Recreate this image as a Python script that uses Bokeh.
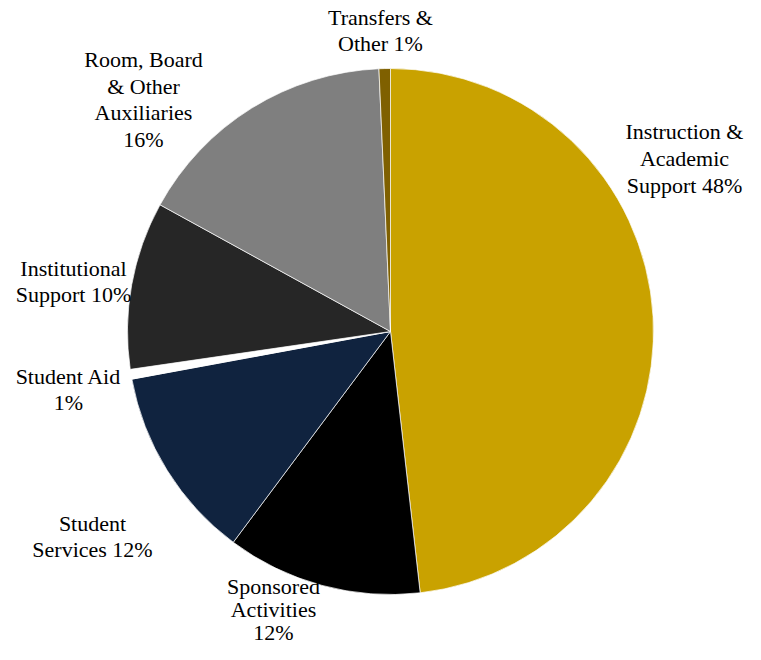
import math
from bokeh.plotting import figure
from bokeh.models import ColumnDataSource, Range1d
from bokeh.core.properties import value
from bokeh.embed import file_html
from bokeh.resources import INLINE

# Data (clockwise from 12 o'clock)
categories = ["Instruction &\nAcademic\nSupport 48%", "Sponsored\nActivities\n12%",
              "Student\nServices 12%", "Student Aid\n1%", "Institutional\nSupport 10%",
              "Room, Board\n& Other\nAuxiliaries\n16%", "Transfers &\nOther 1%"]
shares = [48.2, 12.0, 11.9, 0.6, 10.3, 16.3, 0.7]
colors = ["#C9A200", "#000000", "#10233F", "#FFFFFF", "#262626", "#7F7F7F", "#7F6000"]

# Layout (pixels, measured from top-left of the figure)
W, H = 745, 644
cx, cy, R = 390, 331, 263
label_pos = [(684, 158), (273, 609), (92, 536), (68, 389), (73, 281), (143, 99), (380, 30)]
line_heights = [1.065, 0.93, 1.065, 1.065, 1.065, 1.065, 1.065]

total = sum(shares)
starts, ends = [], []
cum = 0.0
for s in shares:
    starts.append(math.pi / 2 - 2 * math.pi * cum / total)
    cum += s
    ends.append(math.pi / 2 - 2 * math.pi * cum / total)

src = ColumnDataSource(dict(start=starts, end=ends, color=colors))

p = figure(width=W, height=H, x_range=Range1d(0, W), y_range=Range1d(0, H),
           output_backend="svg", toolbar_location=None, min_border=0)
p.axis.visible = False
p.grid.visible = False
p.outline_line_color = None
p.background_fill_color = "white"

p.wedge(x=cx, y=H - cy, radius=R, start_angle="start", end_angle="end", direction="clock",
        fill_color="color", line_color="white", line_width=0.7, source=src)

for lh in sorted(set(line_heights)):
    idx = [i for i, v in enumerate(line_heights) if v == lh]
    lsrc = ColumnDataSource(dict(x=[label_pos[i][0] for i in idx],
                                 y=[H - label_pos[i][1] for i in idx],
                                 t=[categories[i] for i in idx]))
    p.text(x="x", y="y", text="t", source=lsrc, text_align="center", text_baseline="middle",
           text_font=value("Liberation Serif"), text_font_size="22px", text_color="black",
           text_line_height=lh)

open("out.html", "w").write(file_html(p, INLINE))
